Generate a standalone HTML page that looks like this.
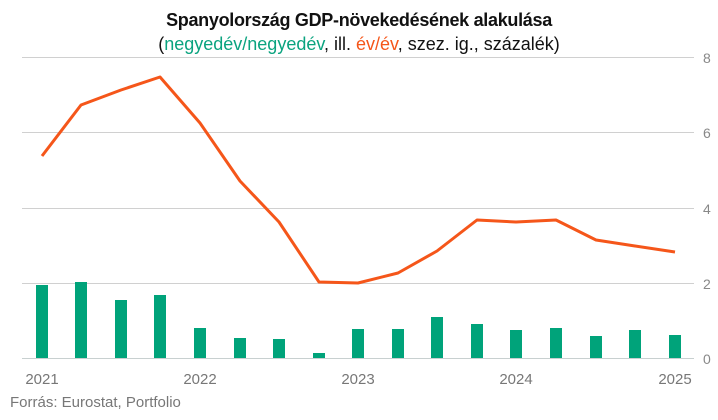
<!DOCTYPE html><html><head><style>body{margin:0;background:#fff;width:718px;height:415px;overflow:hidden;font-family:"Liberation Sans",sans-serif}</style></head><body>
<svg width="718" height="415" xmlns="http://www.w3.org/2000/svg" font-family="Liberation Sans, sans-serif">
<text x="359" y="26" text-anchor="middle" font-size="18" font-weight="bold" fill="#111" letter-spacing="-0.3">Spanyolország GDP-növekedésének alakulása</text>
<text x="359" y="50" text-anchor="middle" font-size="18" fill="#111"><tspan>(</tspan><tspan fill="#0aa37f">negyedév/negyedév</tspan><tspan>, ill. </tspan><tspan fill="#f5561a">év/év</tspan><tspan>, szez. ig., százalék)</tspan></text>
<g stroke="#d0d0d0" stroke-width="1">
<line x1="22" x2="694" y1="57.5" y2="57.5"/><line x1="22" x2="694" y1="132.5" y2="132.5"/><line x1="22" x2="694" y1="208.5" y2="208.5"/><line x1="22" x2="694" y1="283.5" y2="283.5"/><line x1="22" x2="694" y1="358.5" y2="358.5" stroke="#c8d0d0"/></g>
<g font-size="14" fill="#888" text-anchor="start"><text x="703" y="63">8</text><text x="703" y="138">6</text><text x="703" y="214">4</text><text x="703" y="289">2</text><text x="703" y="364">0</text></g>
<g fill="#00a37a">
<rect x="36" y="285" width="12" height="73"/><rect x="75" y="282" width="12" height="76"/><rect x="115" y="300" width="12" height="58"/><rect x="154" y="295" width="12" height="63"/><rect x="194" y="328" width="12" height="30"/><rect x="234" y="338" width="12" height="20"/><rect x="273" y="339" width="12" height="19"/><rect x="313" y="353" width="12" height="5"/><rect x="352" y="329" width="12" height="29"/><rect x="392" y="329" width="12" height="29"/><rect x="431" y="317" width="12" height="41"/><rect x="471" y="324" width="12" height="34"/><rect x="510" y="330" width="12" height="28"/><rect x="550" y="328" width="12" height="30"/><rect x="590" y="336" width="12" height="22"/><rect x="629" y="330" width="12" height="28"/><rect x="669" y="335" width="12" height="23"/></g>
<polyline fill="none" stroke="#f5561a" stroke-width="3" stroke-linejoin="round" points="42,156 81,105 121,90 160,77 200,123 240,181 279,222 319,282 358,283 398,273 437,251 477,220 516,222 556,220 596,240 635,246 675,252"/>
<g font-size="15" fill="#777" text-anchor="middle"><text x="42" y="384">2021</text><text x="200" y="384">2022</text><text x="358" y="384">2023</text><text x="516" y="384">2024</text><text x="675" y="384">2025</text></g>
<text x="10" y="407" font-size="15" fill="#777">Forrás: Eurostat, Portfolio</text>
</svg></body></html>
